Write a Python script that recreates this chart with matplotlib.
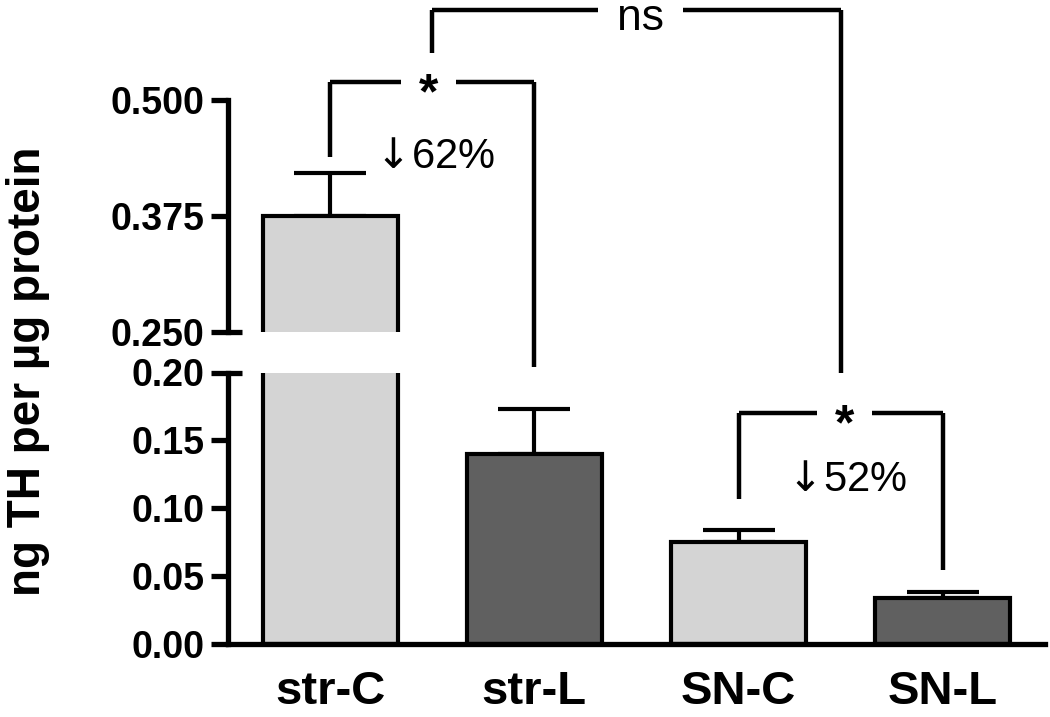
import matplotlib
matplotlib.use("Agg")
import matplotlib.pyplot as plt
from matplotlib.transforms import blended_transform_factory
from matplotlib.lines import Line2D

# ---- data ----
categories = ["str-C", "str-L", "SN-C", "SN-L"]
means = [0.375, 0.140, 0.075, 0.034]
sems = [0.046, 0.033, 0.009, 0.004]
bar_colors = ["#d4d4d4", "#606060", "#d4d4d4", "#606060"]
upper_ticks = [0.250, 0.375, 0.500]
upper_ticklabels = ["0.250", "0.375", "0.500"]
lower_ticks = [0.00, 0.05, 0.10, 0.15, 0.20]
lower_ticklabels = ["0.00", "0.05", "0.10", "0.15", "0.20"]
ylabel = "ng TH per µg protein"
pct_labels = [r"$\downarrow\!$62%", r"$\downarrow\!$52%"]
sig_labels = ["*", "ns", "*"]

# ---- layout ----
W, H = 1050, 717
FONT = ["Liberation Sans", "DejaVu Sans"]
plt.rcParams["font.family"] = FONT
plt.rcParams["mathtext.fontset"] = "dejavusans"

fig = plt.figure(figsize=(W / 100, H / 100), dpi=100)

def fy(py):
    return 1 - py / H

left_px, right_px = 228, 1045
low_bot, low_top = 644, 372.5
up_bot, up_top = 331.7, 100

ax_low = fig.add_axes([left_px / W, fy(low_bot), (right_px - left_px) / W, (low_bot - low_top) / H])
ax_up = fig.add_axes([left_px / W, fy(up_bot), (right_px - left_px) / W, (up_bot - up_top) / H])

x = list(range(len(categories)))
LW = 3.0
SPW = 3.8
TICKFS = 27
for ax in (ax_low, ax_up):
    ax.bar(x, means, width=0.66, color=bar_colors, edgecolor="black", linewidth=LW, zorder=2)
    ax.errorbar(x, means, yerr=[[0] * len(sems), sems], fmt="none", ecolor="black",
                elinewidth=LW, capsize=26, capthick=LW, zorder=1)
    ax.set_xlim(-0.5, 3.5)
    for s in ("top", "right"):
        ax.spines[s].set_visible(False)
    ax.spines["left"].set_linewidth(SPW)
    ax.spines["bottom"].set_linewidth(SPW)
    ax.tick_params(axis="y", direction="out", length=12, width=SPW, pad=5)

ax_low.set_ylim(0, 0.20)
ax_low.set_yticks(lower_ticks)
ax_low.set_yticklabels(lower_ticklabels, fontsize=TICKFS, fontweight="bold")
ax_low.set_xticks(x)
ax_low.set_xticklabels(categories, fontsize=34, fontweight="bold")
ax_low.tick_params(axis="x", length=0, pad=19)

ax_up.set_ylim(0.25, 0.50)
ax_up.set_yticks(upper_ticks)
ax_up.set_yticklabels(upper_ticklabels, fontsize=TICKFS, fontweight="bold")
ax_up.spines["bottom"].set_visible(False)
ax_up.set_xticks([])

# break end caps extending to the right
cap_len = 14 / (right_px - left_px)
ax_low.add_line(Line2D([0, cap_len], [1, 1], transform=ax_low.transAxes, color="black",
                       linewidth=SPW, clip_on=False, solid_capstyle="butt"))
ax_up.add_line(Line2D([0, cap_len], [0, 0], transform=ax_up.transAxes, color="black",
                      linewidth=SPW, clip_on=False, solid_capstyle="butt"))

# y label
fig.text(28 / W, fy(371), ylabel, rotation=90, ha="center", va="center",
         fontsize=33, fontweight="bold")

# ---- significance brackets (x in data, y in pixels) ----
tr = blended_transform_factory(ax_low.transData, fig.transFigure)
BLW = 3.2

def seg(xs, ys):
    fig.add_artist(Line2D(xs, [fy(v) for v in ys], transform=tr, color="black",
                          linewidth=BLW, solid_capstyle="butt"))

def bracket(xl, xr, ytop, ylb, yrb, label, xlab, gap, bold, size, dy):
    seg([xl, xl], [ylb, ytop])
    seg([xr, xr], [yrb, ytop])
    seg([xl, xlab - gap], [ytop, ytop])
    seg([xlab + gap, xr], [ytop, ytop])
    fig.text(xlab, fy(ytop + dy), label, transform=tr, ha="center", va="center",
             fontsize=size, fontweight="bold" if bold else "normal")

# str-C vs str-L
bracket(x[0], x[1], 82, 157, 367, sig_labels[0], 0.48, 0.135, True, 36, 13)
# SN-C vs SN-L
bracket(x[2], x[3], 413, 499, 570, sig_labels[2], 2.52, 0.135, True, 36, 13)
# ns bracket between the two groups
bracket(0.5, 2.5, 10, 53, 373, sig_labels[1], 1.52, 0.21, False, 32, 9)

# percent labels
fig.text(431 / W, fy(157), pct_labels[0], ha="center", va="center", fontsize=30)
fig.text(843 / W, fy(480), pct_labels[1], ha="center", va="center", fontsize=30)

fig.savefig("out.png", dpi=100)
